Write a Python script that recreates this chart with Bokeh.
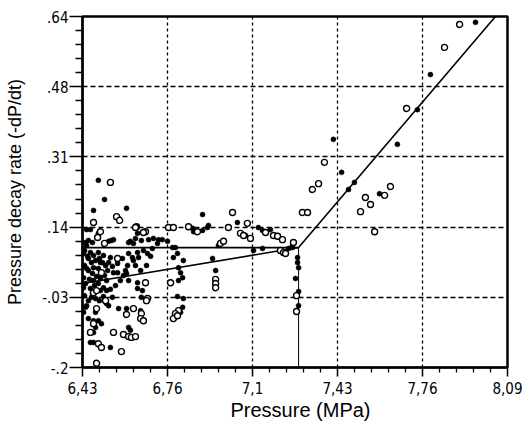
from bokeh.plotting import figure
from bokeh.models import FixedTicker, Range1d, Title, ColumnDataSource
from bokeh.embed import file_html
from bokeh.resources import INLINE
import numpy as np

# ---------------- data ----------------
x_major = [6.43, 6.762, 7.094, 7.426, 7.758, 8.09]
x_labels = ["6,43", "6,76", "7,1", "7,43", "7,76", "8,09"]
y_major = [-0.2, -0.032, 0.136, 0.304, 0.472, 0.64]
y_labels = ["-.2", "-.03", ".14", ".31", ".48", ".64"]

# filled-dot measurements
filled_p = [6.492, 6.516, 6.473, 6.602, 6.461, 6.492, 6.645, 6.543, 6.532, 6.442, 6.453,
            6.617, 6.637, 6.660, 6.688, 6.707, 6.727, 6.446, 6.446, 6.469, 6.551, 6.610,
            6.629, 6.571, 6.723, 6.742, 6.762,
            6.434, 6.461, 6.453, 6.473, 6.492, 6.512, 6.500, 6.520, 6.528, 6.473, 6.453,
            6.438, 6.434, 6.434, 6.567, 6.610, 6.625, 6.645, 6.649, 6.629, 6.606, 6.598,
            6.567, 6.578, 6.668, 6.684, 6.645, 6.645, 6.461, 6.469, 6.500, 6.512, 6.539,
            6.492, 6.551, 6.602, 6.473, 6.524, 6.610, 6.465, 6.481, 6.524, 6.660, 6.442,
            6.434, 6.481, 6.532, 6.571, 6.602, 6.657, 6.453, 6.473, 6.492, 6.504, 6.481,
            6.610, 6.617, 6.473, 6.461, 6.473, 6.539,
            6.438, 6.450, 6.465, 6.481, 6.496, 6.508, 6.446, 6.469, 6.485, 6.500, 6.516,
            6.532, 6.539, 6.547, 6.442, 6.457, 6.477, 6.492, 6.524, 6.438, 6.453, 6.446,
            6.496, 6.512, 6.547, 6.559, 6.586, 6.590, 6.637, 6.657, 6.664, 6.680, 6.696,
            6.703,
            6.793, 6.801, 6.785, 6.805, 6.813, 6.821, 6.805, 6.801, 6.824, 6.821, 6.813,
            6.782, 6.950, 6.824, 6.938,
            6.899, 7.035, 6.860, 6.864, 6.899, 6.918, 6.922, 6.961,
            7.117, 7.133, 7.164, 7.067, 7.250, 7.235, 7.250, 7.098, 7.133,
            7.270, 7.270, 7.274, 7.262, 7.274, 7.274,
            7.965, 7.789, 7.738, 7.660, 7.410, 7.442, 7.492, 7.469, 7.590]
filled_r = [0.248, 0.202, 0.176, 0.181, 0.130, 0.121, 0.121, 0.104, 0.102, 0.099, 0.104,
            0.102, 0.109, 0.104, 0.106, 0.109, 0.106, 0.130, 0.092, 0.099, 0.106, 0.099,
            0.097, 0.157, 0.097, 0.106, 0.102,
            0.073, 0.075, 0.061, 0.068, 0.075, 0.068, 0.051, 0.044, 0.032, 0.039, 0.032,
            0.044, 0.015, -0.009, 0.049, 0.073, 0.063, 0.075, 0.063, 0.056, 0.044, 0.032,
            0.027, 0.008, 0.080, 0.073, 0.003, -0.011, -0.011, -0.023, -0.016, -0.009, -0.013,
            0.037, 0.027, 0.025, 0.008, 0.008, 0.008, -0.032, -0.035, -0.047, -0.032, -0.056,
            -0.068, -0.068, -0.052, -0.059, -0.059, -0.064, -0.083, -0.088, -0.088, -0.095, -0.104,
            -0.104, -0.111, -0.116, -0.140, -0.140, -0.152,
            0.080, 0.066, 0.051, 0.056, 0.061, 0.051, 0.037, 0.025, 0.018, 0.013, 0.020,
            0.051, 0.063, 0.042, 0.001, 0.011, -0.004, 0.001, -0.016, -0.028, -0.040, -0.052,
            -0.040, -0.030, -0.032, -0.004, 0.061, 0.020, 0.044, 0.032, -0.016, 0.044, 0.066,
            0.085,
            0.087, 0.073, 0.063, 0.039, 0.027, 0.015, 0.008, -0.030, -0.035, -0.056, -0.068,
            0.087, 0.032, 0.056, 0.061,
            0.166, 0.147, 0.133, 0.125, 0.128, 0.135, 0.140, 0.092,
            0.135, 0.128, 0.130, 0.116, 0.092, 0.085, 0.087, 0.080, 0.085,
            0.063, 0.051, 0.039, 0.013, -0.018, -0.052,
            0.626, 0.501, 0.417, 0.334, 0.346, 0.267, 0.243, 0.226, 0.216]

# open-circle measurements
open_p = [6.539, 6.563, 6.575, 6.473, 6.500, 6.641, 6.676, 6.516, 6.489, 6.637, 6.668,
          6.567, 6.676, 6.684, 6.504, 6.473, 6.485, 6.520, 6.680, 6.485, 6.602, 6.629,
          6.660, 6.657, 6.668, 6.473, 6.461, 6.551, 6.590, 6.610, 6.621, 6.637, 6.492,
          6.504, 6.582, 6.485,
          6.774, 6.805, 6.793, 6.785, 6.801, 6.950, 6.950, 6.950,
          7.016, 7.074, 6.766, 6.785, 6.844, 6.879, 7.000, 7.047, 7.059, 6.969, 6.981,
          7.328, 7.352, 7.289, 7.309, 7.145, 7.086, 7.176, 7.192, 7.211, 7.254, 7.203,
          7.215, 7.223, 7.266, 7.266,
          7.903, 7.844, 7.696, 7.375, 7.535, 7.555, 7.516, 7.610, 7.633, 7.571]
open_r = [0.243, 0.161, 0.152, 0.147, 0.125, 0.137, 0.125, 0.097, 0.111, 0.135, 0.123,
          0.061, 0.003, -0.035, 0.027, -0.021, -0.016, -0.040, -0.040, -0.059, -0.073, -0.059,
          -0.071, -0.083, -0.088, -0.095, -0.116, -0.116, -0.121, -0.126, -0.128, -0.126, -0.143,
          -0.152, -0.162, -0.190,
          0.003, -0.064, -0.071, -0.083, -0.076, 0.011, 0.001, -0.009,
          0.171, 0.145, 0.135, 0.135, 0.137, 0.125, 0.135, 0.121, 0.116, 0.097, 0.102,
          0.226, 0.240, 0.171, 0.171, 0.123, 0.109, 0.116, 0.114, 0.106, 0.099, 0.080,
          0.075, 0.073, -0.028, -0.066,
          0.621, 0.566, 0.420, 0.291, 0.207, 0.190, 0.173, 0.212, 0.233, 0.125]

# fitted lines (pressure, rate)
flat_p = [6.43, 7.274]
flat_r = [0.087, 0.087]
low_p = [6.43, 7.274]
low_r = [0.001, 0.087]
steep_p = [7.274, 8.043]
steep_r = [0.087, 0.64]
drop_p = [7.274, 7.274]
drop_r = [-0.2, 0.087]

# ---------------- figure ----------------
p = figure(width=524, height=433, output_backend="svg", toolbar_location=None,
           x_range=Range1d(x_major[0], x_major[-1]), y_range=Range1d(y_major[0], y_major[-1]),
           min_border_left=82, min_border_right=17, min_border_top=16, min_border_bottom=66)
p.background_fill_color = "white"
p.border_fill_color = "white"
p.outline_line_color = "black"
p.outline_line_width = 2.5


def minors(major, n=5):
    out = []
    for a, b in zip(major[:-1], major[1:]):
        out.extend(list(np.linspace(a, b, n + 1)[1:-1]))
    return out


p.xaxis.ticker = FixedTicker(ticks=x_major, minor_ticks=minors(x_major))
p.yaxis.ticker = FixedTicker(ticks=y_major, minor_ticks=minors(y_major))
p.xaxis.major_label_overrides = {v: s for v, s in zip(x_major, x_labels)}
p.yaxis.major_label_overrides = {v: s for v, s in zip(y_major, y_labels)}

tick_font = "'Liberation Sans Narrow', 'DejaVu Sans Condensed', sans-serif"
for ax in (p.xaxis[0], p.yaxis[0]):
    ax.axis_line_color = "black"
    ax.axis_line_width = 2
    ax.major_tick_line_color = "black"
    ax.minor_tick_line_color = "black"
    ax.major_tick_line_width = 1.5
    ax.minor_tick_line_width = 1.3
    ax.major_tick_in = 0
    ax.minor_tick_in = 0
    ax.major_label_text_font = tick_font
    ax.major_label_text_font_size = "15px"
    ax.major_label_text_color = "black"
    ax.axis_label_text_font = "Liberation Sans"
    ax.axis_label_text_font_size = "18px"
    ax.axis_label_text_font_style = "normal"
    ax.axis_label_text_color = "black"

p.xaxis.major_tick_out = 9
p.xaxis.minor_tick_out = 5
p.xaxis.major_label_standoff = 5
p.yaxis.major_tick_out = 13
p.yaxis.minor_tick_out = 7
p.yaxis.major_label_standoff = 1
p.yaxis.axis_label = "Pressure decay rate (-dP/dt)"
p.yaxis.axis_label_standoff = 14

xt = Title(text="Pressure (MPa)", align="left", offset=148, text_font="Liberation Sans",
           text_font_size="20px", text_font_style="normal", text_color="black", standoff=1)
p.add_layout(xt, "below")

p.xgrid.grid_line_color = "black"
p.xgrid.grid_line_width = 1.3
p.xgrid.grid_line_dash = "3 3"
p.ygrid.grid_line_color = "black"
p.ygrid.grid_line_width = 1.3
p.ygrid.grid_line_dash = "5 3"

# lines
p.line(flat_p, flat_r, line_color="black", line_width=1.6)
p.line(low_p, low_r, line_color="black", line_width=1.6)
p.line(steep_p, steep_r, line_color="black", line_width=1.6)
p.line(drop_p, drop_r, line_color="black", line_width=1.0)

# points
src_f = ColumnDataSource(dict(x=filled_p, y=filled_r))
src_o = ColumnDataSource(dict(x=open_p, y=open_r))
p.scatter("x", "y", source=src_f, marker="circle", size=5, fill_color="black",
          line_color="black", line_width=0.5)
p.scatter("x", "y", source=src_o, marker="circle", size=6, fill_color="white",
          line_color="black", line_width=1.4)

open("out.html", "w").write(file_html(p, INLINE))
